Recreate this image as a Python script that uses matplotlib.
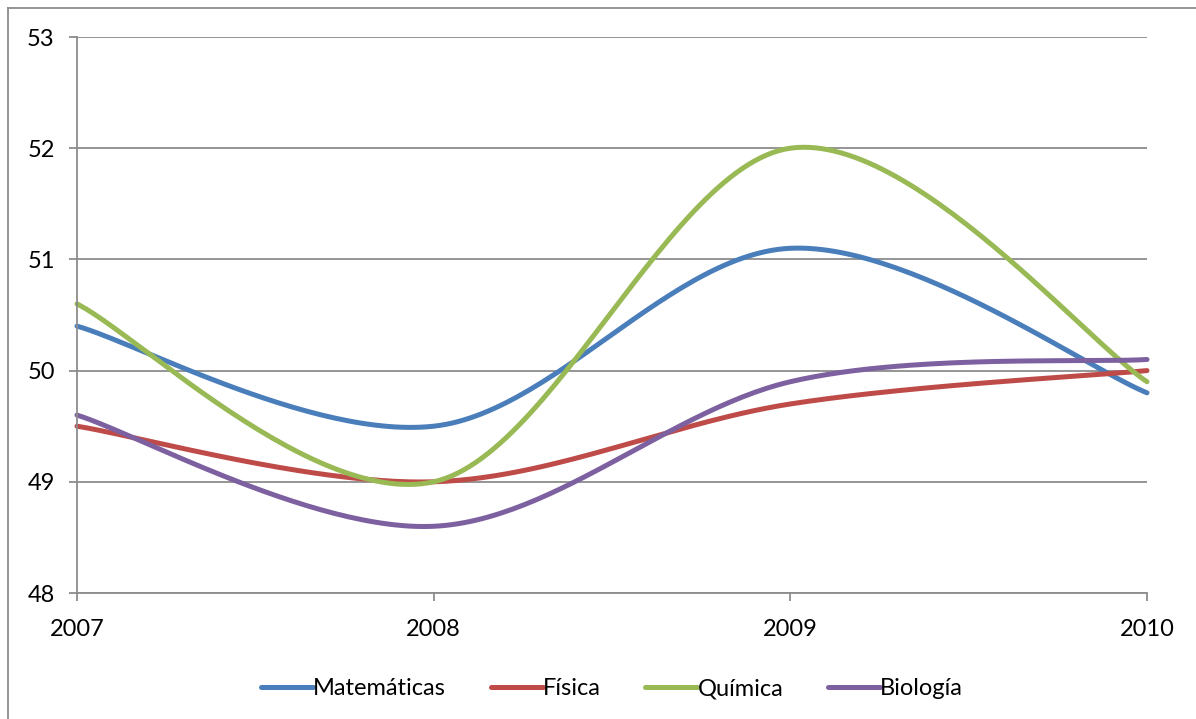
import numpy as np
import matplotlib.pyplot as plt
from matplotlib.lines import Line2D

# Datos
anios = [2007, 2008, 2009, 2010]
matematicas = [50.4, 49.5, 51.1, 49.8]
fisica = [49.5, 49.0, 49.7, 50.0]
quimica = [50.6, 49.0, 52.0, 49.9]
biologia = [49.6, 48.6, 49.9, 50.1]

series = [
    ("Matemáticas", matematicas, "#4A7EBB"),
    ("Física", fisica, "#BE4B48"),
    ("Química", quimica, "#98B954"),
    ("Biología", biologia, "#7D60A0"),
]


def suavizar(x, y, n=60):
    # curva tipo Excel (Bezier con tangentes Catmull-Rom)
    x = np.asarray(x, float)
    y = np.asarray(y, float)
    px = np.concatenate([[x[0]], x, [x[-1]]])
    py = np.concatenate([[y[0]], y, [y[-1]]])
    xs, ys = [], []
    t = np.linspace(0, 1, n)
    for i in range(1, len(px) - 2):
        p0 = np.array([px[i], py[i]])
        p3 = np.array([px[i + 1], py[i + 1]])
        p1 = p0 + (np.array([px[i + 1], py[i + 1]]) - np.array([px[i - 1], py[i - 1]])) / 6
        p2 = p3 - (np.array([px[i + 2], py[i + 2]]) - np.array([px[i], py[i]])) / 6
        b = ((1 - t) ** 3)[:, None] * p0 + (3 * (1 - t) ** 2 * t)[:, None] * p1 \
            + (3 * (1 - t) * t ** 2)[:, None] * p2 + (t ** 3)[:, None] * p3
        xs.append(b[:, 0])
        ys.append(b[:, 1])
    return np.concatenate(xs), np.concatenate(ys)


plt.rcParams['font.family'] = ['Lato', 'DejaVu Sans']

fig = plt.figure(figsize=(11.96, 7.19), dpi=100)
ax = fig.add_axes([77 / 1196, 1 - 593 / 719, (1147 - 77) / 1196, (593 - 37) / 719])

for nombre, valores, color in series:
    xs, ys = suavizar(anios, valores)
    ax.plot(xs, ys, color=color, lw=3.6, label=nombre, solid_capstyle='round', clip_on=False)

ax.set_xlim(2007, 2010)
ax.set_ylim(48, 53)
ax.set_xticks(anios)
ax.set_yticks(range(48, 54))
ax.grid(axis='y', color='#8C8C8C', lw=1.3)
ax.set_axisbelow(True)

for lado in ['top', 'right']:
    ax.spines[lado].set_visible(False)
for lado in ['left', 'bottom']:
    ax.spines[lado].set_color('#8C8C8C')
    ax.spines[lado].set_linewidth(1.3)

ax.tick_params(axis='both', colors='#8C8C8C', labelcolor='black', length=6,
               width=1.3, labelsize=17)
ax.tick_params(axis='y', pad=10)
ax.tick_params(axis='x', pad=13)

ax.legend(loc='upper center', bbox_to_anchor=(0.5, -0.115), ncol=4, frameon=False,
          fontsize=17, handlelength=2.2, handletextpad=0.0, columnspacing=1.9)

# borde exterior del gráfico
fig.add_artist(Line2D([8 / 1196, 8 / 1196], [0, 1 - 8 / 719], color='#8C8C8C', lw=1.3))
fig.add_artist(Line2D([8 / 1196, 1], [1 - 8 / 719, 1 - 8 / 719], color='#8C8C8C', lw=1.3))

fig.savefig('out.png', dpi=100)
